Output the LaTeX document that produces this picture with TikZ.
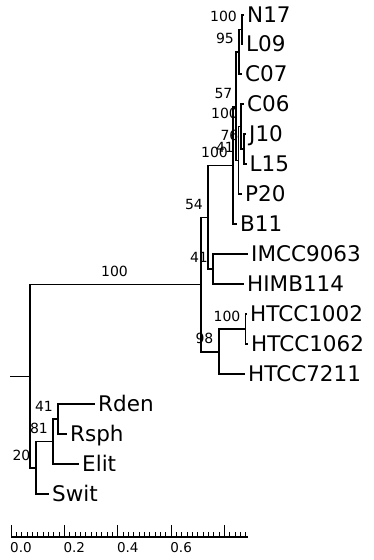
\documentclass[tikz,border=0pt]{standalone}
\usepackage{fontspec}
\setmainfont{DejaVu Sans}
\begin{document}
\begin{tikzpicture}[x=1pt,y=-1pt,
  edge/.style={line width=1.5pt},
  leaf/.style={anchor=west, inner xsep=3pt, inner ysep=0pt, text height=15.6pt, text depth=0pt, font=\fontsize{21.5}{22}\selectfont},
  supp/.style={inner sep=0pt, font=\fontsize{14}{14}\selectfont},
  scalelbl/.style={anchor=west, inner sep=0pt, font=\fontsize{13.5}{14}\selectfont},
  tick/.style={line width=1pt}]
\useasboundingbox (0,0) rectangle (373,560);
% internal nodes
\coordinate (stub) at (10,376.5);
\coordinate (R) at (30,376.5);
\coordinate (I) at (201,284.5);
\coordinate (S54) at (208,217.5);
\coordinate (U100) at (233,165.5);
\coordinate (X57) at (236,107);
\coordinate (B95) at (239,51.75);
\coordinate (A100) at (242,29.5);
\coordinate (Y41) at (238.5,160.5);
\coordinate (Z100) at (241,126.5);
\coordinate (W76) at (244,149);
\coordinate (T41) at (213,269);
\coordinate (U98) at (219,352);
\coordinate (V100) at (245.5,329);
\coordinate (O20) at (36,468);
\coordinate (P81) at (53,441.5);
\coordinate (Q41) at (58,419);
% leaves
\node[leaf] (N17) at (244,15) {N17};
\node[leaf] (L09) at (243,44) {L09};
\node[leaf] (C07) at (242,74) {C07};
\node[leaf] (C06) at (244,104) {C06};
\node[leaf] (J10) at (246,134) {J10};
\node[leaf] (L15) at (246.5,164) {L15};
\node[leaf] (P20) at (242,194) {P20};
\node[leaf] (B11) at (237,224) {B11};
\node[leaf] (IMCC9063) at (248,254) {IMCC9063};
\node[leaf] (HIMB114) at (244,284) {HIMB114};
\node[leaf] (HTCC1002) at (247,314) {HTCC1002};
\node[leaf] (HTCC1062) at (248,344) {HTCC1062};
\node[leaf] (HTCC7211) at (245,374) {HTCC7211};
\node[leaf] (Rden) at (95,404) {Rden};
\node[leaf] (Rsph) at (67,434) {Rsph};
\node[leaf] (Elit) at (79,464) {Elit};
\node[leaf] (Swit) at (49,494) {Swit};
% edges
\draw[edge] (stub) -- (R);
\draw[edge] (R) |- (I);
\draw[edge] (R) |- (O20);
\draw[edge] (I) |- (S54);
\draw[edge] (I) |- (U98);
\draw[edge] (S54) |- (U100);
\draw[edge] (S54) |- (T41);
\draw[edge] (U100) |- (X57);
\draw[edge] (U100) |- (B11.west);
\draw[edge] (X57) |- (B95);
\draw[edge] (X57) |- (Y41);
\draw[edge] (B95) |- (A100);
\draw[edge] (B95) |- (C07.west);
\draw[edge] (A100) |- (N17.west);
\draw[edge] (A100) |- (L09.west);
\draw[edge] (Y41) |- (Z100);
\draw[edge] (Y41) |- (P20.west);
\draw[edge] (Z100) |- (C06.west);
\draw[edge] (Z100) |- (W76);
\draw[edge] (W76) |- (J10.west);
\draw[edge] (W76) |- (L15.west);
\draw[edge] (T41) |- (IMCC9063.west);
\draw[edge] (T41) |- (HIMB114.west);
\draw[edge] (U98) |- (V100);
\draw[edge] (U98) |- (HTCC7211.west);
\draw[edge] (V100) |- (HTCC1002.west);
\draw[edge] (V100) |- (HTCC1062.west);
\draw[edge] (O20) |- (P81);
\draw[edge] (O20) |- (Swit.west);
\draw[edge] (P81) |- (Q41);
\draw[edge] (P81) |- (Elit.west);
\draw[edge] (Q41) |- (Rden.west);
\draw[edge] (Q41) |- (Rsph.west);
% support values
\node[supp] (sA) at (223.5,16) {100};
\node[supp] (sB) at (225,38) {95};
\node[supp] (sX) at (223.5,93) {57};
\node[supp] (sZ) at (224.5,113) {100};
\node[supp] (sW) at (229.5,135) {76};
\node[supp] (sY) at (225,147) {41};
\node[supp] (sU) at (214.5,152) {100};
\node[supp] (sS) at (194,204) {54};
\node[supp] (sT) at (199,257) {41};
\node[supp] (sV) at (227,316) {100};
\node[supp] (sU98) at (204.5,338) {98};
\node[supp] (sI) at (114.5,271) {100};
\node[supp] (sQ) at (44,406) {41};
\node[supp] (sP) at (39,428) {81};
\node[supp] (sO) at (21.5,455) {20};
% scale bar
\coordinate (bar0) at (11,537);
\coordinate (bar1) at (248,537);
\draw[line width=1.5pt] (bar0) -- (bar1);
\foreach \i in {0,...,44} {
  \pgfmathsetmacro{\xx}{11+\i*5.34}
  \pgfmathtruncatemacro{\m}{mod(\i,10)}
  \ifnum\m=0
    \draw[tick] (\xx,537) -- (\xx,525);
  \else
    \draw[tick] (\xx,537) -- (\xx,531.5);
  \fi
}
\node[scalelbl] (t0) at (10,548) {0.0};
\node[scalelbl] (t2) at (63.4,548) {0.2};
\node[scalelbl] (t4) at (116.8,548) {0.4};
\node[scalelbl] (t6) at (170.2,548) {0.6};
\end{tikzpicture}
\end{document}
